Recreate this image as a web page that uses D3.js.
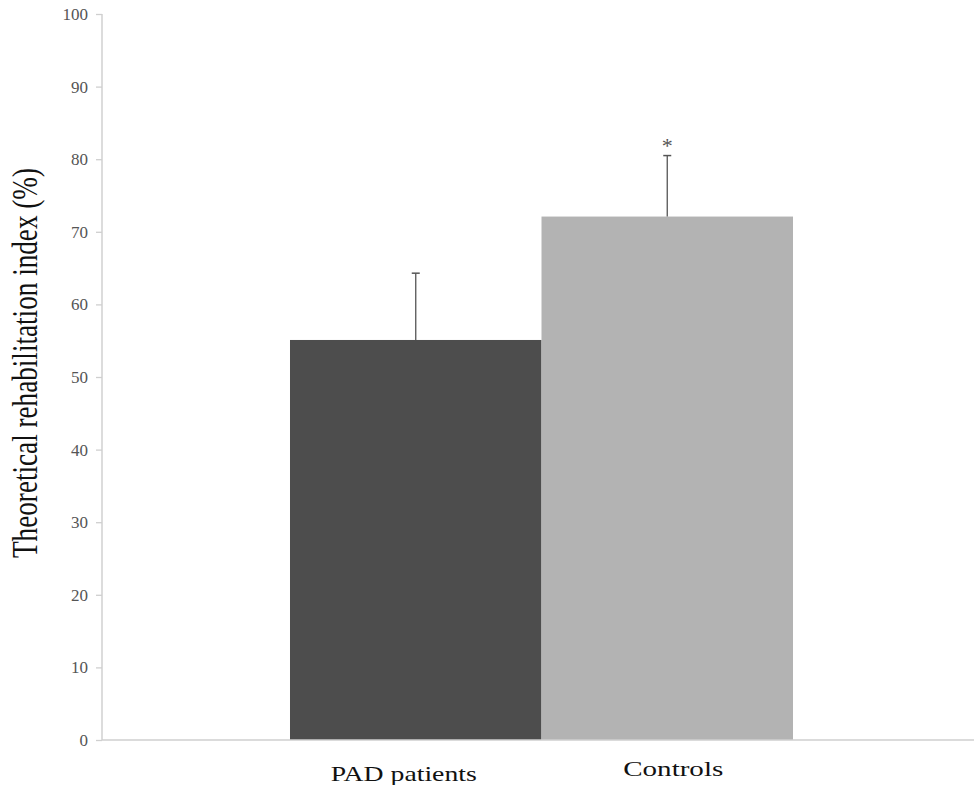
<!DOCTYPE html>
<html><head><meta charset="utf-8">
<script src="https://cdn.jsdelivr.net/npm/d3@7"></script>
<style>body{margin:0;background:#fff}svg{display:block}</style>
</head><body>
<svg id="chart" width="974" height="785"></svg>
<script>
const categories = ["PAD patients", "Controls"];
const means = [55.1, 72.1];
const errors = [9.2, 8.4];
const significance = ["", "*"];
const yTicks = [0, 10, 20, 30, 40, 50, 60, 70, 80, 90, 100];
const barColors = ["#4d4d4d", "#b3b3b3"];
const yTitle = "Theoretical rehabilitation index (%)";

const FONT = "'Liberation Serif', 'Times New Roman', serif";
const svg = d3.select("#chart");
const x = d3.scaleBand().domain(categories).range([102, 981]).paddingInner(0).paddingOuter(0.7475);
const y = d3.scaleLinear().domain([0, 100]).range([740, 14]);

// y axis
const ya = svg.append("g").attr("transform", "translate(102,0)")
  .call(d3.axisLeft(y).tickValues(yTicks).tickSize(6).tickPadding(8));
ya.attr("font-family", FONT);
ya.select(".domain").attr("stroke", "#d4d4d4").attr("stroke-width", 1.6).attr("d", `M0,${y(100)}V${y(0)}`);
ya.selectAll(".tick line").attr("stroke", "#cfcfcf").attr("stroke-width", 1.3);
ya.selectAll(".tick text").attr("fill", "#555").style("font-family", FONT).style("font-size", "17px");

// bars
svg.selectAll("rect.bar").data(categories).enter().append("rect")
  .attr("class", "bar")
  .attr("x", d => x(d))
  .attr("width", x.bandwidth())
  .attr("y", (d, i) => y(means[i]))
  .attr("height", (d, i) => y(0) - y(means[i]))
  .attr("fill", (d, i) => barColors[i]);

// x axis line
svg.append("line").attr("x1", 102).attr("x2", 974).attr("y1", y(0)).attr("y2", y(0))
  .attr("stroke", "#cfcfcf").attr("stroke-width", 1.6);

// error bars
const eb = svg.selectAll("g.err").data(categories).enter().append("g").attr("class", "err");
eb.append("line")
  .attr("x1", d => x(d) + x.bandwidth() / 2).attr("x2", d => x(d) + x.bandwidth() / 2)
  .attr("y1", (d, i) => y(means[i])).attr("y2", (d, i) => y(means[i] + errors[i]))
  .attr("stroke", "#555").attr("stroke-width", 1.3);
eb.append("line")
  .attr("x1", d => x(d) + x.bandwidth() / 2 - 4).attr("x2", d => x(d) + x.bandwidth() / 2 + 4)
  .attr("y1", (d, i) => y(means[i] + errors[i])).attr("y2", (d, i) => y(means[i] + errors[i]))
  .attr("stroke", "#555").attr("stroke-width", 1.5);
eb.append("text")
  .attr("x", d => x(d) + x.bandwidth() / 2)
  .attr("y", (d, i) => y(means[i] + errors[i]) - 3)
  .attr("text-anchor", "middle")
  .attr("fill", "#555")
  .style("font-family", FONT).style("font-size", "22px")
  .text((d, i) => significance[i]);

// x labels
const labelShift = [-12, 6];
const labelBase = [781, 776];
const labelLen = [146, 100];
svg.selectAll("text.xl").data(categories).enter().append("text")
  .attr("class", "xl")
  .attr("x", (d, i) => x(d) + x.bandwidth() / 2 + labelShift[i])
  .attr("y", (d, i) => labelBase[i])
  .attr("text-anchor", "middle")
  .attr("fill", "#111")
  .attr("textLength", (d, i) => labelLen[i]).attr("lengthAdjust", "spacingAndGlyphs")
  .style("font-family", FONT).style("font-size", "22px")
  .text(d => d);

// y title
svg.append("text")
  .attr("transform", "translate(37,363) scale(1.35,1) rotate(-90)")
  .attr("text-anchor", "middle")
  .attr("fill", "#111")
  .attr("textLength", 390).attr("lengthAdjust", "spacingAndGlyphs")
  .style("font-family", FONT).style("font-size", "26px")
  .text(yTitle);
</script>
</body></html>
